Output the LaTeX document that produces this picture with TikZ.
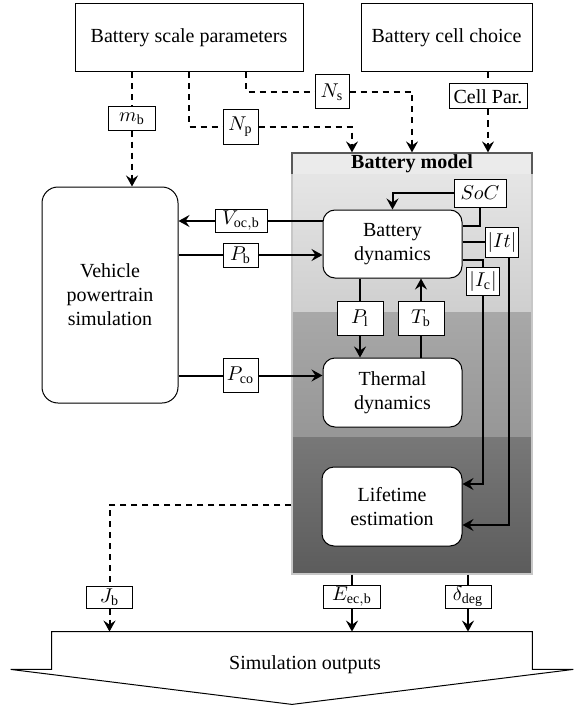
\documentclass[tikz,border=0pt]{standalone}
\usepackage{amsmath}
\usepackage{fontspec}
\setmainfont{Liberation Serif}
\usepackage{tikz}
\usetikzlibrary{arrows.meta,positioning,calc}
\tikzstyle{block} = [rectangle, draw, fill=white, text centered, align=center,
    rounded corners=6pt, line width=0.5pt]
\tikzstyle{inbox} = [rectangle, draw, fill=white, text centered, line width=0.5pt]
\tikzstyle{lbl} = [rectangle, draw, fill=white, inner sep=1pt, line width=0.5pt]
\tikzstyle{wire} = [draw, line width=1pt]
\tikzstyle{line} = [wire, -{Stealth[length=5.5pt, width=6pt, inset=2pt]}]

\begin{document}
\begin{tikzpicture}[x=0.5pt, y=-0.5pt]
    \tikzstyle{dwire} = [wire, dash pattern=on 3pt off 2.5pt]
    \tikzstyle{dline} = [line, dash pattern=on 3pt off 2.5pt]
    \useasboundingbox (0,0) rectangle (573,706);

    % Battery model background
    \shade [top color=black!10, bottom color=black!19] (292,174) rectangle (532,312);
    \shade [top color=black!34, bottom color=black!41] (292,312) rectangle (532,437);
    \shade [top color=black!53, bottom color=black!64] (292,437) rectangle (532,574);
    \node [draw=black!22, line width=0.6pt, minimum width=120pt, minimum height=210.5pt] (bm) at (412,363.5) {};
    \draw [draw=black!65, fill=black!8, line width=0.6pt] (292,174) |- (532,153) -- (532,174);
    \node [font=\bfseries, inner sep=1pt] (bmtitle) at (412,163.5) {Battery model};

    % Battery scale parameters
    \node [inbox, minimum width=114pt, minimum height=34pt] (bsp) at (189,38) {Battery scale parameters};

    % Battery cell choice
    \node [inbox, minimum width=85.5pt, minimum height=34pt] (bcc) at (446.5,38) {Battery cell choice};

    % Vehicle powertrain simulation
    \node [block, rounded corners=8pt, minimum width=68pt, minimum height=108pt] (vps) at (110,295) {Vehicle\\powertrain\\simulation};

    % Battery dynamics
    \node [block, minimum width=69.5pt, minimum height=34pt] (bd) at (392.5,244) {Battery\\dynamics};

    % Thermal dynamics
    \node [block, minimum width=69.5pt, minimum height=34.5pt] (td) at (392.5,392.5) {Thermal\\dynamics};

    % Lifetime estimation
    \node [block, minimum width=70pt, minimum height=39.5pt] (le) at (392,506.5) {Lifetime\\estimation};

    % Simulation outputs
    \node [minimum width=240pt, minimum height=18.5pt, inner sep=0pt] (out) at (292,650.5) {};
    \draw [line width=0.5pt] (out.north west) -- (out.north east) -- (out.south east) -- ++(20.5pt,0)
        -- ([yshift=-17.5pt]out.south) -- ([xshift=-20.5pt]out.south west) -- (out.south west) -- cycle;
    \node (outtext) at (305,665) {Simulation outputs};

    % Signal labels
    \node [lbl, minimum width=23.5pt, minimum height=11.5pt] (mb) at (132,118.5) {$m_\mathrm{b}$};
    \node [lbl, minimum width=17.5pt, minimum height=17.5pt] (np) at (240.5,127) {$N_\mathrm{p}$};
    \node [lbl, minimum width=17pt, minimum height=17pt] (ns) at (332,92) {$N_\mathrm{s}$};
    \node [lbl, minimum width=39pt, minimum height=12.5pt] (cp) at (488,96.5) {Cell Par.};
    \node [lbl, minimum width=26pt, minimum height=11pt] (voc) at (241,221) {$V_\mathrm{oc,b}$};
    \node [lbl, minimum width=17.5pt, minimum height=12pt] (pb) at (240.5,255) {$P_\mathrm{b}$};
    \node [lbl, minimum width=17.5pt, minimum height=17pt] (pco) at (240.5,375.5) {$P_\mathrm{co}$};
    \node [lbl, minimum width=26pt, minimum height=14pt] (soc) at (480,193) {$SoC$};
    \node [lbl, minimum width=16pt, minimum height=15pt] (it) at (502,242) {$|It|$};
    \node [lbl, minimum width=16.5pt, minimum height=14pt] (ic) at (483,281) {$|I_\mathrm{c}|$};
    \node [lbl, minimum width=23pt, minimum height=17pt] (pl) at (360,318) {$P_\mathrm{l}$};
    \node [lbl, minimum width=23pt, minimum height=17pt] (tb) at (421,318) {$T_\mathrm{b}$};
    \node [lbl, minimum width=23pt, minimum height=11pt] (jb) at (109.5,597) {$J_\mathrm{b}$};
    \node [lbl, minimum width=28.5pt, minimum height=11pt] (eec) at (352,597) {$E_\mathrm{ec,b}$};
    \node [lbl, minimum width=23pt, minimum height=11pt] (ddeg) at (468,597) {$\delta_\mathrm{deg}$};

    % Arrows
    \path [dwire] (bsp.south -| mb) -- (mb);
    \path [dline] (mb) -- (mb |- vps.north);
    \path [dwire] (bsp.south) |- (np);
    \path [dline] (np) -| ([xshift=-30pt]bm.north);
    \path [dwire] ([xshift=28.5pt]bsp.south) |- (ns);
    \path [dline] (ns) -| (bm.north);
    \path [dwire] (bcc.south -| cp) -- (cp);
    \path [dline] (cp) -- (cp |- bm.north);
    \path [wire] (bd.west |- voc) -- (voc);
    \path [line] (voc) -- (voc -| vps.east);
    \path [wire] (vps.east |- pb) -- (pb);
    \path [line] (pb) -- (pb -| bd.west);
    \path [wire] (vps.east |- pco) -- (pco);
    \path [line] (pco) -- (pco -| td.west);
    \path [wire] ([yshift=9pt]bd.east) -| (soc);
    \path [line] (soc) -| (bd.north);
    \path [wire] (bd.east |- it) -- (it);
    \path [line] ([xshift=3.5pt]it.south) |- ([yshift=-9.25pt]le.east);
    \path [wire] ([yshift=-8pt]bd.east) -| (ic);
    \path [line] (ic) |- ([yshift=11.25pt]le.east);
    \path [wire] (bd.south -| pl) -- (pl);
    \path [line] (pl) -- (pl |- td.north);
    \path [wire] (td.north -| tb) -- (tb);
    \path [line] (tb) -- (tb |- bd.south);
    \path [dwire] ([yshift=-70.75pt]bm.west) -| (jb);
    \path [dline] (jb) -- (jb |- out.north);
    \path [wire] (bm.south -| eec) -- (eec);
    \path [line] (eec) -- (eec |- out.north);
    \path [wire] (bm.south -| ddeg) -- (ddeg);
    \path [line] (ddeg) -- (ddeg |- out.north);

\end{tikzpicture}
\end{document}
